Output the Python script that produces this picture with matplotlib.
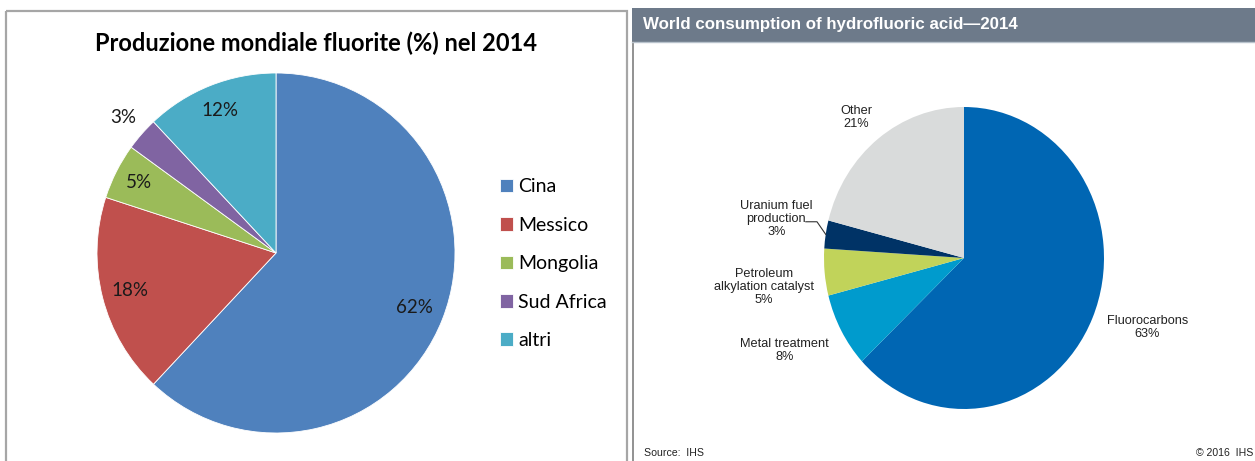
import matplotlib.pyplot as plt
from matplotlib.patches import Rectangle
import numpy as np

W, H = 1255, 461

# left chart data
left_title = "Produzione mondiale fluorite (%) nel 2014"
left_names = ["Cina", "Messico", "Mongolia", "Sud Africa", "altri"]
left_values = [62, 18, 5, 3, 12]
left_colors = ["#4f81bd", "#c0504d", "#9bbb59", "#8064a2", "#4bacc6"]

# right chart data
right_title = "World consumption of hydrofluoric acid\u20142014"
right_names = ["Fluorocarbons", "Metal treatment", "Petroleum\nalkylation catalyst",
               "Uranium fuel\nproduction", "Other"]
right_values = [63, 8, 5, 3, 21]
right_colors = ["#0066b3", "#009bcd", "#c1d35a", "#003366", "#d9dbdb"]


def px_axes(fig, x0, y0, w, h):
    # pixel box (top-left origin) -> figure fraction
    return fig.add_axes([x0 / W, 1 - (y0 + h) / H, w / W, h / H])


fig = plt.figure(figsize=(W / 100, H / 100), dpi=100)
fig.patch.set_facecolor("white")

# panel frames
bg = fig.add_axes([0, 0, 1, 1])
bg.set_xlim(0, W)
bg.set_ylim(H, 0)
bg.axis("off")
bg.add_patch(Rectangle((6, 11), 621, 460, fill=False, edgecolor="#a6a6a6", lw=1.6))
bg.add_patch(Rectangle((632, 8), 630, 34, facecolor="#6d7a8a", edgecolor="none"))
bg.plot([632.5, 632.5], [42, 461], color="#7f7f7f", lw=1.2)
bg.plot([632, 1255], [42.5, 42.5], color="#b8c2cc", lw=1)

# ---------------- left pie ----------------
axl = px_axes(fig, 276 - 179, 253 - 180, 358, 360)
wedges, _ = axl.pie(left_values, colors=left_colors, startangle=90, counterclock=False,
                    wedgeprops=dict(edgecolor="white", linewidth=0.6))
axl.set_aspect("auto")
axl.set_xlim(-1, 1)
axl.set_ylim(-1, 1)

label_dist = [0.83, 0.84, 0.86, 1.14, 0.85]
for w, v, d in zip(wedges, left_values, label_dist):
    ang = np.deg2rad((w.theta1 + w.theta2) / 2)
    axl.text(d * np.cos(ang), d * np.sin(ang), f"{v}%", ha="center", va="center",
             fontsize=13.5, family="Lato", color="#1a1a1a")

fig.text(316 / W, 1 - 43 / H, left_title, ha="center", va="center",
         fontsize=17, family="Lato", weight="bold", color="black")

leg = fig.legend(wedges, left_names, loc="upper left",
                 bbox_to_anchor=(482 / W, 1 - 161 / H), frameon=False,
                 prop=dict(family="Lato", size=14), handlelength=0.7,
                 handleheight=0.7, handletextpad=0.25, labelspacing=1.1)

# ---------------- right pie ----------------
axr = px_axes(fig, 964 - 140, 258 - 151, 280, 302)
wedges_r, _ = axr.pie(right_values, colors=right_colors, startangle=90, counterclock=False,
                      wedgeprops=dict(edgecolor="none"))
axr.set_aspect("auto")
axr.set_xlim(-1, 1)
axr.set_ylim(-1, 1)

label_xy = [(1.31, -0.46), (-1.28, -0.61), (-1.43, -0.19), (-1.34, 0.26), (-0.77, 0.93)]
for name, v, (x, y) in zip(right_names, right_values, label_xy):
    axr.text(x, y, f"{name}\n{v}%", ha="center", va="center", fontsize=9.2,
             family="Liberation Sans", color="#222222", linespacing=1.1)

# leader line for uranium slice
w = wedges_r[3]
ang = np.deg2rad((w.theta1 + w.theta2) / 2)
ex, ey = np.cos(ang), np.sin(ang)
axr.plot([-1.13, -1.05, ex], [0.24, 0.24, ey], color="#333333", lw=0.8, clip_on=False)

fig.text(643 / W, 1 - 25 / H, right_title, ha="left", va="center", fontsize=12.2,
         family="Liberation Sans", weight="bold", color="white")
fig.text(644 / W, 1 - 453 / H, "Source:  IHS", ha="left", va="center", fontsize=7.6,
         family="Liberation Sans", color="#222222")
fig.text(1253 / W, 1 - 453 / H, "\u00a9 2016  IHS", ha="right", va="center", fontsize=7.6,
         family="Liberation Sans", color="#222222")

fig.savefig("out.png", dpi=100)
